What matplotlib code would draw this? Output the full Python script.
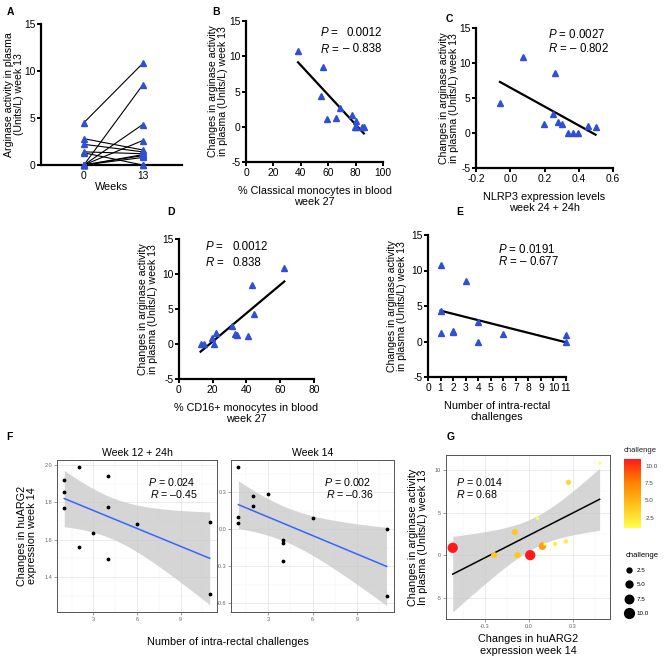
import numpy as np
import matplotlib.pyplot as plt
from matplotlib.colors import LinearSegmentedColormap, Normalize
from matplotlib.cm import ScalarMappable
from matplotlib.lines import Line2D

plt.rcParams['font.family'] = ['Liberation Sans', 'DejaVu Sans']
plt.rcParams['mathtext.fontset'] = 'custom'
plt.rcParams['mathtext.rm'] = 'Liberation Sans'
plt.rcParams['mathtext.it'] = 'Liberation Sans:italic'
plt.rcParams['axes.unicode_minus'] = False

# ---- data ----
# A: arginase activity week 0 -> week 13
a_week0 = [4.5, 0, 0, 0, 2.8, 2.2, 1.4, 1.3, 0, 0, 0, 0]
a_week13 = [10.8, 8.5, 4.3, 2.6, 1.6, 1.4, 1.2, 0, 1.1, 1.0, 0.8, 0]
a_ticklabels = ['0', '13']

# B: classical monocytes vs change
b_x = [38, 56.5, 55, 68.5, 77.5, 65.5, 59, 80, 79.5, 80.5, 84.5, 86]
b_y = [10.8, 8.5, 4.3, 2.6, 1.6, 1.3, 1.1, 0.8, 0, 0, 0, 0]

# C: NLRP3 expression vs change
c_x = [-0.06, 0.077, 0.259, 0.249, 0.198, 0.278, 0.30, 0.34, 0.366, 0.395, 0.456, 0.498]
c_y = [4.3, 10.8, 8.6, 2.7, 1.3, 1.6, 1.3, 0, 0, 0, 1.05, 0.86]

# D: CD16+ monocytes vs change
d_x = [62.4, 43.1, 44.7, 31.2, 21.9, 19.4, 20.5, 12.8, 14.8, 33.3, 34.3, 40.9]
d_y = [10.8, 8.5, 4.3, 2.6, 1.6, 0.9, 0, 0, 0, 1.4, 1.3, 1.1]

# E: number of challenges vs change
e_x = [1, 1, 1, 2, 2, 3, 4, 4, 6, 11, 11]
e_y = [10.8, 4.3, 1.2, 1.5, 1.3, 8.5, 2.7, 0, 1.1, 0.85, -0.1]

# F: huARG2 expression vs challenges
f_x = [1, 1, 1, 2, 2, 3, 4, 4, 4, 6, 11, 11]
f_left_y = [1.92, 1.854, 1.771, 1.988, 1.56, 1.634, 1.94, 1.775, 1.497, 1.684, 1.693, 1.31]
f_right_y = [0.505, 0.102, 0.054, 0.268, 0.191, 0.286, -0.089, -0.108, -0.255, 0.089, 0.0, -0.543]
f_titles = ['Week 12 + 24h', 'Week 14']

# G: huARG2 week 14 vs arginase change, coloured/sized by challenge
g_x = [-0.521, -0.238, -0.096, -0.078, 0.009, 0.059, 0.093, 0.11, 0.18, 0.253, 0.271, 0.484]
g_y = [0.86, 0.0, 2.7, 0.0, 0.0, 4.3, 1.05, 1.3, 1.33, 1.6, 8.55, 10.8]
g_chal = [11, 4, 4, 4, 11, 1, 6, 1, 2, 2, 3, 1]

blue = '#2f4fd4'
t_crit = 2.228  # t(0.975, df=10)
W, H = 669, 661


def prism(ax, xlim, xticks, ylim, yticks, xlabel, ylabel, ylab_px, xticklabels=None):
    for s in ['top', 'right']:
        ax.spines[s].set_visible(False)
    for s in ['left', 'bottom']:
        ax.spines[s].set_linewidth(1.6)
    ax.set_xlim(*xlim)
    ax.set_ylim(*ylim)
    ax.set_xticks(xticks)
    if xticklabels is not None:
        ax.set_xticklabels(xticklabels)
    ax.set_yticks(yticks)
    ax.tick_params(labelsize=7.4, length=3, width=1.4, pad=1)
    ax.set_xlabel(xlabel, fontsize=7.8, labelpad=6, linespacing=1.15)
    ax.set_ylabel(ylabel, fontsize=7.6, linespacing=1.05, va='center')
    # ylab_px: horizontal pixel distance from the y axis to the label centre
    wpx = ax.get_position().width * W
    ax.yaxis.set_label_coords(-ylab_px / wpx, 0.5)


def fitline(ax, x, y):
    x = np.array(x, float)
    y = np.array(y, float)
    k, b = np.polyfit(x, y, 1)
    xs = np.array([x.min(), x.max()])
    ax.plot(xs, k * xs + b, color='black', lw=1.6, zorder=2)


def lm_band(ax, x, y, color, fill='#c8c8c8'):
    x = np.array(x, float)
    y = np.array(y, float)
    k, b = np.polyfit(x, y, 1)
    xs = np.linspace(x.min(), x.max(), 80)
    n = len(x)
    res = y - (k * x + b)
    s = np.sqrt(np.sum(res ** 2) / (n - 2))
    se = s * np.sqrt(1 / n + (xs - x.mean()) ** 2 / np.sum((x - x.mean()) ** 2))
    yh = k * xs + b
    ax.fill_between(xs, yh - t_crit * se, yh + t_crit * se, color=fill, alpha=0.75, lw=0, zorder=1)
    ax.plot(xs, yh, color=color, lw=1.1, zorder=2)


def gg(ax):
    for s in ax.spines.values():
        s.set_color('#555555')
        s.set_linewidth(0.7)
    ax.grid(True, which='major', color='#e6e6e6', lw=0.6)
    ax.grid(True, which='minor', color='#f0f0f0', lw=0.35)
    ax.set_axisbelow(True)
    ax.tick_params(which='major', labelsize=4, colors='#555555', labelcolor='#666666', length=2, width=0.4, pad=1.5)
    ax.tick_params(which='minor', length=0)


ylab = 'Changes in arginase activity\nin plasma (Units/L) week 13'
fig = plt.figure(figsize=(6.69, 6.61), dpi=100)


def box(x0, y0, x1, y1):
    return [x0 / W, 1 - y1 / H, (x1 - x0) / W, (y1 - y0) / H]


# ---- A ----
ax = fig.add_axes(box(41, 24, 182, 165))
for w0, w13 in zip(a_week0, a_week13):
    ax.plot([0, 1], [w0, w13], color='black', lw=0.8, zorder=2)
ax.plot(np.zeros(len(a_week0)), a_week0, '^', color=blue, ms=4.3, ls='none', clip_on=False, zorder=3)
ax.plot(np.ones(len(a_week13)), a_week13, '^', color=blue, ms=4.3, ls='none', clip_on=False, zorder=3)
prism(ax, (-0.73, 1.67), [0, 1], (0, 15), [0, 5, 10, 15], 'Weeks',
      'Arginase activity in plasma\n(Units/L) week 13', 27, a_ticklabels)
ax.xaxis.labelpad = 1

# ---- B ----
ax = fig.add_axes(box(246, 21, 383, 162))
ax.plot(b_x, b_y, '^', color=blue, ms=4.3, ls='none', zorder=3)
fitline(ax, b_x, b_y)
prism(ax, (0, 100), range(0, 101, 20), (-5, 15), range(-5, 16, 5),
      '% Classical monocytes in blood\nweek 27', ylab, 28)
ax.text(0.54, 0.915, '$P$ =', transform=ax.transAxes, fontsize=8.3, va='center')
ax.text(0.99, 0.915, '0.0012', transform=ax.transAxes, fontsize=8.3, va='center', ha='right')
ax.text(0.54, 0.80, '$R$ =', transform=ax.transAxes, fontsize=8.3, va='center')
ax.text(0.99, 0.80, '\u2013 0.838', transform=ax.transAxes, fontsize=8.3, va='center', ha='right')

# ---- C ----
ax = fig.add_axes(box(476, 28, 613, 168))
ax.plot(c_x, c_y, '^', color=blue, ms=4.3, ls='none', zorder=3)
fitline(ax, c_x, c_y)
prism(ax, (-0.2, 0.6), [-0.2, 0.0, 0.2, 0.4, 0.6], (-5, 15), range(-5, 16, 5),
      'NLRP3 expression levels\nweek 24 + 24h', ylab, 27)
ax.set_xticklabels(['-0.2', '0.0', '0.2', '0.4', '0.6'])
ax.text(0.525, 0.95, '$P$ = 0.0027', transform=ax.transAxes, fontsize=8.3, va='center')
ax.text(0.525, 0.85, '$R$ = \u2013 0.802', transform=ax.transAxes, fontsize=8.3, va='center')

# ---- D ----
ax = fig.add_axes(box(179, 239, 314, 379))
ax.plot(d_x, d_y, '^', color=blue, ms=4.3, ls='none', zorder=3)
fitline(ax, d_x, d_y)
prism(ax, (0, 80), range(0, 81, 20), (-5, 15), range(-5, 16, 5),
      '% CD16+ monocytes in blood\nweek 27', ylab, 31)
ax.text(0.19, 0.943, '$P$ =', transform=ax.transAxes, fontsize=8.3, va='center')
ax.text(0.40, 0.943, '0.0012', transform=ax.transAxes, fontsize=8.3, va='center')
ax.text(0.19, 0.829, '$R$ =', transform=ax.transAxes, fontsize=8.3, va='center')
ax.text(0.40, 0.829, '0.838', transform=ax.transAxes, fontsize=8.3, va='center')

# ---- E ----
ax = fig.add_axes(box(428, 235, 566, 377))
ax.plot(e_x, e_y, '^', color=blue, ms=4.3, ls='none', zorder=3, clip_on=False)
fitline(ax, e_x, e_y)
prism(ax, (0, 11), range(0, 12), (-5, 15), range(-5, 16, 5),
      'Number of intra-rectal\nchallenges', ylab, 31)
ax.text(0.51, 0.90, '$P$ = 0.0191', transform=ax.transAxes, fontsize=8.3, va='center')
ax.text(0.51, 0.81, '$R$ = \u2013 0.677', transform=ax.transAxes, fontsize=8.3, va='center')

# ---- F ----
fl = fig.add_axes(box(57, 460, 217, 612))
fr = fig.add_axes(box(231, 460, 394, 612))
for ax, fy, title, stats in [(fl, f_left_y, f_titles[0], ('0.024', '\u20130.45')),
                             (fr, f_right_y, f_titles[1], ('0.002', '\u20130.36'))]:
    gg(ax)
    lm_band(ax, f_x, fy, '#3366ff')
    ax.scatter(f_x, fy, s=3, color='black', zorder=3)
    ax.set_xlim(0.5, 11.5)
    ax.set_xticks([3, 6, 9])
    ax.set_xticks([1.5, 4.5, 7.5, 10.5], minor=True)
    ax.set_title(title, fontsize=7.6, pad=3)
    ax.text(0.57, 0.857, '$P$ = ' + stats[0], transform=ax.transAxes, fontsize=7.7, va='center')
    ax.text(0.58, 0.774, '$R$ = ' + stats[1], transform=ax.transAxes, fontsize=7.7, va='center')
fl.set_ylim(1.212, 2.027)
fl.set_yticks([1.4, 1.6, 1.8, 2.0])
fl.set_yticks([1.3, 1.5, 1.7, 1.9], minor=True)
fr.set_ylim(-0.67, 0.562)
fr.set_yticks([-0.6, -0.3, 0.0, 0.3])
fr.set_yticks([-0.45, -0.15, 0.15, 0.45], minor=True)
fig.text(27 / W, 1 - 536 / H, 'Changes in huARG2\nexpression week 14', rotation=90,
         ha='center', va='center', fontsize=7.8, linespacing=1.1)
fig.text(228 / W, 1 - 642 / H, 'Number of intra-rectal challenges', ha='center', va='center', fontsize=7.8)

# ---- G ----
cmap = LinearSegmentedColormap.from_list('chal', ['#ffff4d', '#ffc21a', '#ff8000', '#ff1a1a'])
norm = Normalize(1, 11)
ax = fig.add_axes(box(446, 455, 610, 619))
gg(ax)
lm_band(ax, g_x, g_y, 'black')
ax.scatter(g_x, g_y, s=[5 * c for c in g_chal], c=g_chal, cmap=cmap, norm=norm, lw=0, zorder=3)
ax.set_xlim(-0.567, 0.555)
ax.set_ylim(-7.5, 11.76)
ax.set_xticks([-0.3, 0.0, 0.3])
ax.set_xticks([-0.45, -0.15, 0.15, 0.45], minor=True)
ax.set_yticks([-5, 0, 5, 10])
ax.set_yticks([-2.5, 2.5, 7.5], minor=True)
ax.text(0.06, 0.837, '$P$ = 0.014', transform=ax.transAxes, fontsize=7.7, va='center')
ax.text(0.06, 0.762, '$R$ = 0.68', transform=ax.transAxes, fontsize=7.7, va='center')
ax.set_xlabel('Changes in huARG2\nexpression week 14', fontsize=7.8, labelpad=4, linespacing=1.15)
ax.set_ylabel('Changes in arginase activity\nIn plasma (Units/L) week 13', fontsize=7.8,
              linespacing=1.1, va='center')
ax.yaxis.set_label_coords(-28 / 164, 0.5)

cax = fig.add_axes(box(624, 459, 641, 528))
cb = fig.colorbar(ScalarMappable(norm=norm, cmap=cmap), cax=cax)
cb.outline.set_visible(False)
cb.set_ticks([2.5, 5.0, 7.5, 10.0])
cb.set_ticklabels(['2.5', '5.0', '7.5', '10.0'])
cax.tick_params(length=0, labelsize=4.5, colors='#444444', pad=3)
fig.text(624 / W, 1 - 450 / H, 'challenge', fontsize=5.5, va='center', color='#222222')

sizes = [2.5, 5.0, 7.5, 10.0]
handles = [Line2D([], [], marker='o', ls='none', color='black', markersize=np.sqrt(5 * v)) for v in sizes]
leg = fig.legend(handles, ['2.5', '5.0', '7.5', '10.0'], title='challenge', frameon=False,
                 loc='upper left', bbox_to_anchor=(620 / W, 1 - 546 / H), fontsize=4.5,
                 title_fontsize=5.5, labelspacing=1.45, handletextpad=0.6, handlelength=1.2,
                 alignment='left')

# panel letters
for lab, x, y in [('A', 7, 12), ('B', 212, 12), ('C', 446, 19), ('D', 167, 212),
                  ('E', 456, 212), ('F', 6, 437), ('G', 447, 437)]:
    fig.text(x / W, 1 - y / H, lab, fontsize=7.5, fontweight='bold', va='center', ha='left')

fig.savefig('out.png', dpi=100)
